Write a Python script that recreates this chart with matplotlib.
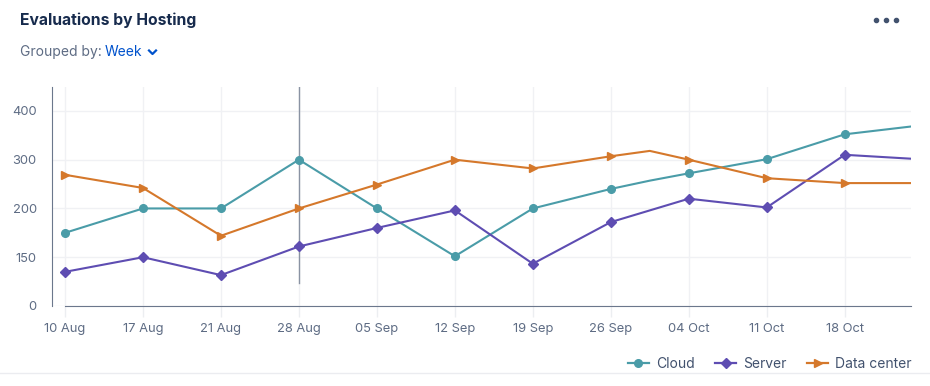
import matplotlib.pyplot as plt
import numpy as np
from matplotlib.lines import Line2D

# week labels and the positions of each sample along the week axis
week_labels = ['10 Aug', '17 Aug', '21 Aug', '28 Aug', '05 Sep', '12 Sep',
               '19 Sep', '26 Sep', '04 Oct', '11 Oct', '18 Oct']
x_vals = [0, 1, 2, 3, 4, 5, 6, 7, 7.5, 8, 9, 10, 10.85]
marked = [0, 1, 2, 3, 4, 5, 6, 7, 9, 10, 11]  # samples that carry a marker

cloud = [175, 200, 200, 300, 200, 151, 200, 240, 257, 272, 301, 352, 368]
server = [105, 150, 95, 161, 180, 198, 130, 186, 198, 220, 202, 310, 302]
data_center = [269, 242, 172, 200, 249, 300, 282, 307, 318, 300, 262, 252, 252]

y_ticks = [0, 150, 200, 300, 400]
scale_vals = [0, 150, 200, 300, 400, 500]
scale_pos = [0, 1, 2, 3, 4, 5]

plt.rcParams['font.family'] = ['Inter', 'DejaVu Sans']

fig = plt.figure(figsize=(9.3, 3.86), dpi=100)
W, H = 930, 386
ax = fig.add_axes([52 / W, (H - 306) / H, (911 - 52) / W, (306 - 87) / H])


def fwd(v):
    return np.interp(v, scale_vals, scale_pos)


def inv(p):
    return np.interp(p, scale_pos, scale_vals)


ax.set_yscale('function', functions=(fwd, inv))

c_cloud, c_server, c_dc = '#4a9ca8', '#5e4db2', '#d5782b'
ax.plot(x_vals, cloud, color=c_cloud, lw=1.5, marker='o', ms=5.5, markevery=marked)
ax.plot(x_vals, server, color=c_server, lw=1.5, marker='D', ms=5.5, markevery=marked)
ax.plot(x_vals, data_center, color=c_dc, lw=1.5, marker='>', ms=5.5, markevery=marked)

# hover cursor
ax.axvline(3, ymin=0.105, ymax=1, color='#8a93a3', lw=1, zorder=1)

ax.set_xlim(-13 / 78, 10.85)
ax.set_ylim(0, inv(4.49))
ax.set_xticks(range(len(week_labels)))
ax.set_xticklabels(week_labels)
ax.set_yticks(y_ticks)
ax.set_yticklabels([str(v) for v in y_ticks])
ax.grid(True, color='#f0f1f4', lw=1)
ax.set_axisbelow(True)
ax.tick_params(axis='x', length=8, color='#eceef1', width=1, labelsize=9.3,
               labelcolor='#5e6c84', pad=4)
ax.tick_params(axis='y', length=0, labelsize=9.3, labelcolor='#5e6c84', pad=11)

for s in ['top', 'right']:
    ax.spines[s].set_visible(False)
ax.spines['left'].set_color('#6b778c')
ax.spines['bottom'].set_color('#6b778c')
ax.spines['bottom'].set_bounds(0, 10.85)

# header
fig.text(20 / W, 1 - 20 / H, 'Evaluations by Hosting', fontsize=11.3, fontweight='bold',
         color='#172b4d', va='center')
fig.text(20 / W, 1 - 52 / H, 'Grouped by:', fontsize=10, color='#5e6c84', va='center')
fig.text(105 / W, 1 - 52 / H, 'Week', fontsize=10, color='#0052cc', va='center')
fig.add_artist(Line2D([149 / W, 152.5 / W, 156 / W],
                      [1 - 50.5 / H, 1 - 54 / H, 1 - 50.5 / H],
                      transform=fig.transFigure, color='#0052cc', lw=1.6))
fig.add_artist(Line2D([876 / W, 886 / W, 896 / W], [1 - 20 / H] * 3,
                      transform=fig.transFigure, ls='none', marker='o', ms=3,
                      color='#42526e'))

# legend
handles = [Line2D([], [], color=c_cloud, lw=1.6, marker='o', ms=5.5),
           Line2D([], [], color=c_server, lw=1.6, marker='D', ms=5.5),
           Line2D([], [], color=c_dc, lw=1.6, marker='>', ms=5.5)]
fig.legend(handles, ['Cloud', 'Server', 'Data center'], ncol=3, frameon=False,
           loc='center right', bbox_to_anchor=(924 / W, 1 - 364 / H),
           fontsize=10, labelcolor='#42526e', handlelength=1.5,
           handletextpad=0.5, columnspacing=1.5)
fig.add_artist(Line2D([0, 1], [1 - 373 / H] * 2, transform=fig.transFigure,
                      color='#ebecf0', lw=1))

plt.savefig('out.png', dpi=100)
